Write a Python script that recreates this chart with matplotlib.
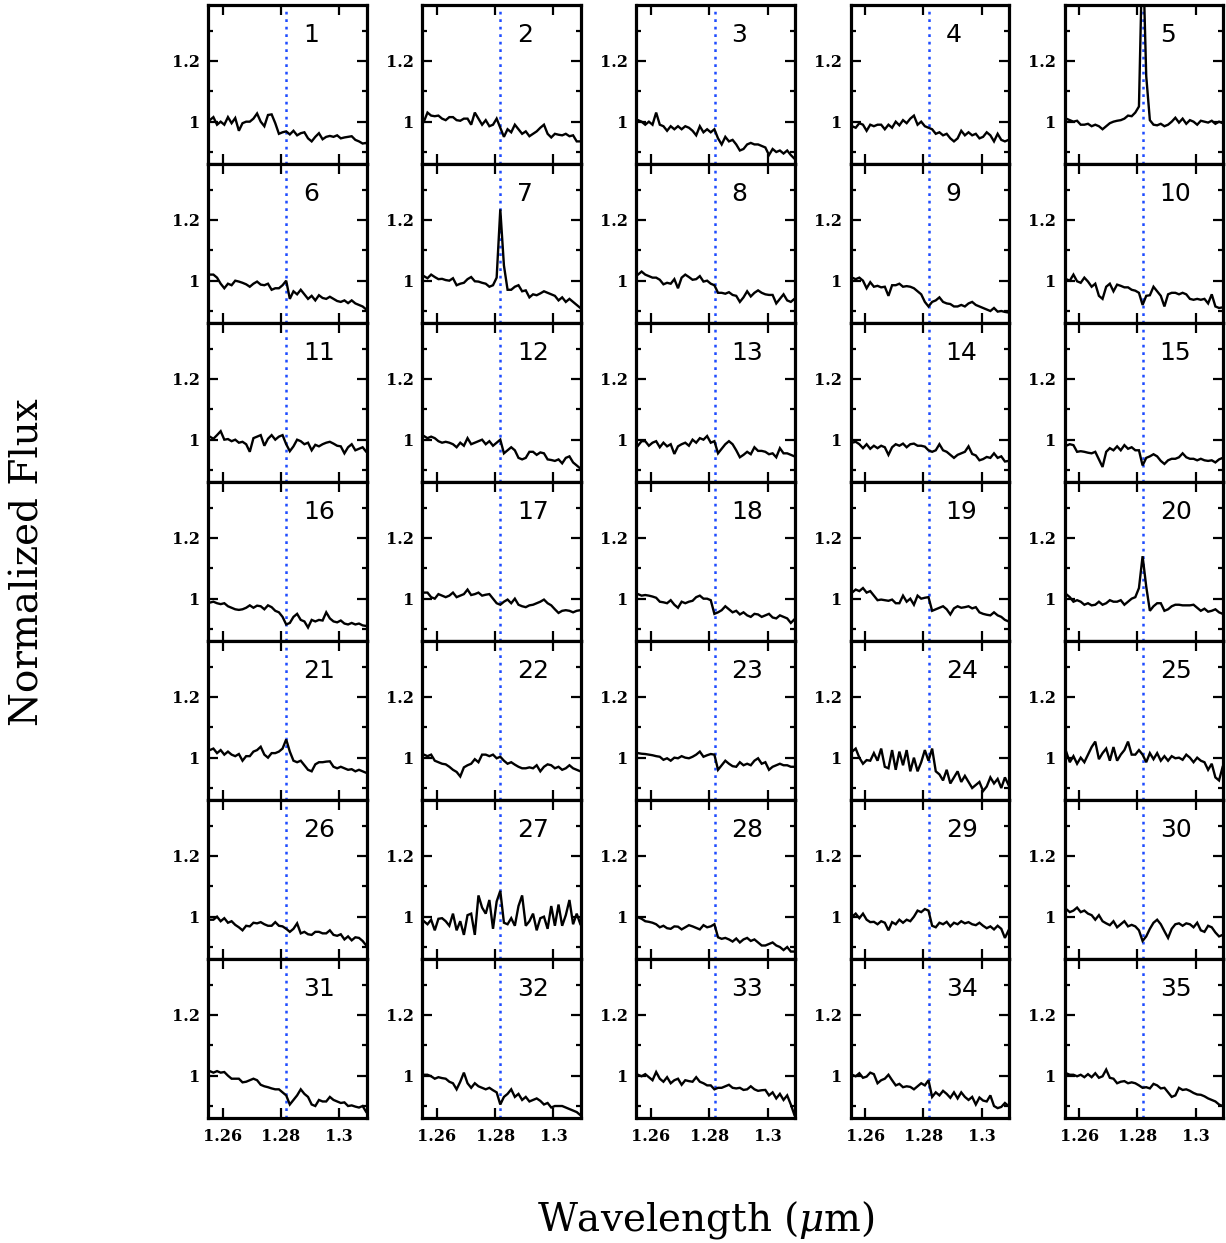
import numpy as np
import matplotlib
matplotlib.use("Agg")
import matplotlib.pyplot as plt
from matplotlib.ticker import FixedLocator, FixedFormatter, NullFormatter

# Wavelength sampling of the extracted spectra (micron)
wave = np.round(1.2555 + 0.00125 * np.arange(45), 5)
PA_BETA = 1.2818

f01 = [1.005, 1.015, 0.990, 1.000, 0.990, 1.015, 0.995, 1.012, 0.970, 0.995,
       1.000, 1.000, 1.010, 1.027, 1.000, 0.985, 1.022, 1.024, 0.995, 0.960,
       0.965, 0.968, 0.958, 0.970, 0.955, 0.962, 0.965, 0.945, 0.935, 0.950,
       0.962, 0.942, 0.950, 0.953, 0.950, 0.955, 0.945, 0.948, 0.950, 0.952,
       0.940, 0.935, 0.928, 0.930, 0.910]
f02 = [1.000, 1.030, 1.020, 1.018, 1.020, 1.010, 1.005, 1.015, 1.015, 1.005,
       1.003, 1.010, 1.010, 0.990, 1.030, 1.010, 0.990, 1.005, 0.985, 0.990,
       1.010, 0.980, 0.950, 0.975, 0.965, 0.990, 0.975, 0.960, 0.968, 0.952,
       0.960, 0.968, 0.980, 0.990, 0.960, 0.948, 0.960, 0.957, 0.955, 0.960,
       0.952, 0.955, 0.935, 0.935, 0.935]
f03 = [1.005, 1.000, 0.990, 1.000, 0.990, 1.030, 0.990, 0.985, 0.970, 0.985,
       0.975, 0.985, 0.975, 0.985, 0.980, 0.970, 0.955, 0.985, 0.965, 0.975,
       0.965, 0.975, 0.945, 0.925, 0.950, 0.935, 0.940, 0.925, 0.905, 0.910,
       0.925, 0.930, 0.925, 0.925, 0.920, 0.915, 0.890, 0.910, 0.900, 0.905,
       0.895, 0.905, 0.890, 0.878, 0.880]
f04 = [0.985, 0.980, 0.995, 0.990, 0.970, 0.990, 0.985, 0.990, 0.990, 0.975,
       0.990, 0.980, 1.000, 0.988, 1.005, 0.995, 1.010, 1.020, 0.990, 1.000,
       0.985, 0.980, 0.975, 0.960, 0.965, 0.955, 0.960, 0.945, 0.935, 0.945,
       0.970, 0.955, 0.965, 0.955, 0.960, 0.945, 0.950, 0.965, 0.955, 0.935,
       0.960, 0.940, 0.935, 0.940, 0.940]
f05 = [1.010, 1.005, 1.000, 1.003, 0.990, 0.990, 0.993, 0.985, 0.990, 0.985,
       0.975, 0.985, 0.995, 1.000, 1.003, 1.005, 1.010, 1.020, 1.018, 1.030,
       1.050, 1.600, 1.150, 1.005, 0.990, 0.988, 0.993, 0.985, 0.990, 1.000,
       1.013, 0.997, 1.010, 0.993, 1.005, 1.000, 0.990, 1.003, 1.000, 0.997,
       1.003, 0.993, 1.000, 0.995, 0.995]
f06 = [1.020, 1.020, 1.010, 0.990, 0.975, 0.990, 0.985, 1.000, 0.997, 0.993,
       0.988, 0.980, 0.990, 0.997, 0.987, 0.985, 0.990, 0.970, 0.975, 0.975,
       0.985, 1.000, 0.940, 0.965, 0.955, 0.970, 0.955, 0.940, 0.950, 0.935,
       0.952, 0.943, 0.940, 0.947, 0.940, 0.933, 0.930, 0.935, 0.926, 0.935,
       0.925, 0.920, 0.915, 0.905, 0.905]
f07 = [1.015, 1.008, 1.020, 1.012, 1.005, 1.006, 1.002, 1.000, 1.008, 0.985,
       0.990, 0.993, 1.005, 1.012, 0.998, 0.997, 0.993, 0.990, 0.980, 0.985,
       1.010, 1.235, 1.050, 0.970, 0.970, 0.980, 0.985, 0.965, 0.968, 0.945,
       0.955, 0.952, 0.958, 0.965, 0.960, 0.955, 0.950, 0.935, 0.945, 0.930,
       0.940, 0.930, 0.920, 0.910, 0.905]
f08 = [1.020, 1.030, 1.020, 1.015, 1.010, 1.010, 1.003, 0.988, 0.993, 0.990,
       1.005, 0.975, 1.010, 1.020, 1.012, 1.003, 1.005, 1.015, 0.997, 1.000,
       0.990, 0.985, 0.960, 0.960, 0.957, 0.962, 0.953, 0.950, 0.930, 0.945,
       0.965, 0.948, 0.960, 0.968, 0.960, 0.955, 0.953, 0.953, 0.925, 0.940,
       0.955, 0.935, 0.930, 0.940, 0.935]
f09 = [1.010, 1.005, 1.010, 1.000, 0.975, 0.995, 0.980, 0.983, 0.978, 0.980,
       0.950, 0.985, 0.985, 0.990, 0.980, 0.982, 0.980, 0.975, 0.965, 0.955,
       0.930, 0.915, 0.930, 0.935, 0.945, 0.930, 0.925, 0.923, 0.915, 0.915,
       0.920, 0.915, 0.925, 0.930, 0.920, 0.915, 0.910, 0.905, 0.900, 0.910,
       0.898, 0.900, 0.897, 0.895, 0.895]
f10 = [1.005, 1.000, 1.020, 0.998, 0.993, 1.010, 0.997, 0.980, 0.990, 0.950,
       0.940, 0.980, 0.990, 0.965, 0.987, 0.983, 0.978, 0.978, 0.970, 0.967,
       0.960, 0.920, 0.950, 0.952, 0.980, 0.965, 0.950, 0.915, 0.955, 0.960,
       0.960, 0.955, 0.960, 0.955, 0.940, 0.937, 0.940, 0.937, 0.940, 0.925,
       0.955, 0.915, 0.910, 0.912, 0.910]
f11 = [1.010, 1.003, 1.015, 1.028, 1.000, 1.002, 0.995, 1.000, 0.990, 0.993,
       0.985, 0.960, 1.005, 1.010, 1.015, 0.980, 1.003, 1.015, 1.000, 1.010,
       1.015, 0.985, 0.962, 0.978, 1.000, 0.995, 0.985, 0.990, 0.965, 0.983,
       0.978, 0.985, 0.990, 0.993, 0.987, 0.980, 0.978, 0.955, 0.975, 0.985,
       0.965, 0.970, 0.975, 0.960, 0.960]
f12 = [1.012, 1.005, 1.010, 1.005, 0.995, 0.990, 0.993, 0.990, 0.985, 0.975,
       0.990, 0.980, 1.005, 0.985, 0.990, 0.995, 1.000, 0.985, 0.995, 0.980,
       0.990, 1.000, 0.955, 0.965, 0.975, 0.965, 0.940, 0.935, 0.940, 0.960,
       0.960, 0.950, 0.958, 0.955, 0.935, 0.933, 0.930, 0.935, 0.922, 0.940,
       0.945, 0.925, 0.915, 0.905, 0.905]
f13 = [0.980, 0.995, 0.995, 0.980, 0.990, 0.995, 0.975, 0.990, 0.978, 0.985,
       0.953, 0.978, 0.985, 0.990, 0.980, 1.000, 0.990, 1.005, 1.000, 1.012,
       0.990, 0.995, 0.955, 0.970, 0.985, 0.995, 0.985, 0.965, 0.942, 0.950,
       0.960, 0.952, 0.975, 0.963, 0.963, 0.960, 0.952, 0.955, 0.942, 0.972,
       0.955, 0.955, 0.950, 0.945, 0.945]
f14 = [0.990, 0.993, 0.985, 0.972, 0.985, 0.970, 0.980, 0.972, 0.980, 0.975,
       0.950, 0.975, 0.985, 0.980, 0.987, 0.975, 0.985, 0.987, 0.980, 0.980,
       0.977, 0.965, 0.960, 0.965, 0.985, 0.965, 0.960, 0.950, 0.940, 0.950,
       0.955, 0.960, 0.978, 0.953, 0.948, 0.932, 0.936, 0.943, 0.940, 0.955,
       0.940, 0.945, 0.928, 0.930, 0.930]
f15 = [0.980, 0.985, 0.982, 0.960, 0.962, 0.960, 0.957, 0.955, 0.960, 0.935,
       0.910, 0.960, 0.972, 0.965, 0.978, 0.965, 0.982, 0.970, 0.975, 0.965,
       0.965, 0.915, 0.940, 0.945, 0.952, 0.945, 0.930, 0.920, 0.932, 0.937,
       0.937, 0.942, 0.955, 0.942, 0.937, 0.937, 0.932, 0.937, 0.932, 0.930,
       0.932, 0.925, 0.935, 0.940, 0.940]
f16 = [0.987, 0.990, 0.985, 0.982, 0.985, 0.975, 0.970, 0.965, 0.963, 0.965,
       0.970, 0.978, 0.970, 0.977, 0.975, 0.965, 0.978, 0.972, 0.960, 0.955,
       0.940, 0.915, 0.920, 0.940, 0.950, 0.930, 0.925, 0.905, 0.930, 0.925,
       0.930, 0.928, 0.955, 0.935, 0.925, 0.922, 0.928, 0.918, 0.915, 0.920,
       0.915, 0.918, 0.912, 0.910, 0.910]
f17 = [1.020, 1.020, 1.005, 1.000, 1.015, 1.010, 1.005, 1.010, 1.020, 1.005,
       1.010, 1.015, 1.030, 1.012, 1.015, 1.020, 1.010, 1.013, 1.015, 1.000,
       0.985, 0.980, 0.990, 0.997, 0.985, 1.000, 0.980, 0.975, 0.972, 0.978,
       0.980, 0.985, 0.990, 0.997, 0.985, 0.978, 0.965, 0.953, 0.960, 0.962,
       0.960, 0.955, 0.960, 0.962, 0.962]
f18 = [1.015, 1.010, 1.012, 1.010, 1.007, 1.003, 0.990, 0.988, 0.985, 0.995,
       0.980, 0.970, 0.990, 0.985, 0.990, 0.993, 1.005, 1.010, 1.000, 1.000,
       0.995, 0.950, 0.955, 0.962, 0.975, 0.965, 0.955, 0.960, 0.948, 0.955,
       0.945, 0.940, 0.950, 0.948, 0.940, 0.945, 0.950, 0.938, 0.935, 0.945,
       0.940, 0.935, 0.920, 0.932, 0.930]
f19 = [1.020, 1.030, 1.025, 1.035, 1.020, 1.025, 1.010, 0.995, 0.997, 0.995,
       0.993, 0.997, 0.985, 0.985, 1.010, 0.990, 1.000, 0.980, 1.010, 1.000,
       1.003, 1.005, 0.960, 0.965, 0.970, 0.975, 0.965, 0.948, 0.968, 0.975,
       0.970, 0.972, 0.975, 0.968, 0.972, 0.955, 0.950, 0.947, 0.945, 0.955,
       0.945, 0.940, 0.930, 0.925, 0.925]
f20 = [1.015, 1.005, 0.990, 0.995, 0.990, 0.980, 0.985, 0.978, 0.980, 0.990,
       0.980, 0.985, 0.995, 0.990, 0.990, 0.995, 0.980, 0.990, 1.000, 1.005,
       1.035, 1.140, 1.040, 0.960, 0.975, 0.985, 0.985, 0.960, 0.965, 0.975,
       0.980, 0.980, 0.978, 0.978, 0.978, 0.980, 0.970, 0.960, 0.967, 0.957,
       0.960, 0.965, 0.955, 0.950, 0.950]
f21 = [1.025, 1.030, 1.015, 1.025, 1.010, 1.020, 1.010, 1.005, 1.012, 0.990,
       1.005, 1.005, 1.020, 1.025, 1.036, 1.010, 1.000, 1.015, 1.015, 1.020,
       1.030, 1.060, 1.020, 0.990, 0.985, 0.990, 0.975, 0.960, 0.955, 0.978,
       0.985, 0.985, 0.987, 0.988, 0.970, 0.965, 0.970, 0.965, 0.960, 0.962,
       0.955, 0.960, 0.955, 0.950, 0.950]
f22 = [1.010, 1.005, 1.010, 0.990, 0.985, 0.980, 0.978, 0.970, 0.960, 0.953,
       0.938, 0.968, 0.975, 0.980, 0.995, 0.985, 1.010, 1.010, 1.005, 1.010,
       0.998, 1.003, 0.990, 0.980, 0.985, 0.977, 0.970, 0.965, 0.965, 0.968,
       0.965, 0.975, 0.955, 0.970, 0.978, 0.975, 0.965, 0.970, 0.960, 0.965,
       0.975, 0.965, 0.960, 0.955, 0.955]
f23 = [1.015, 1.013, 1.012, 1.010, 1.008, 1.005, 1.003, 0.993, 0.998, 0.990,
       1.000, 0.998, 1.005, 1.000, 0.998, 1.003, 1.010, 1.020, 1.003, 1.008,
       1.012, 1.010, 0.960, 0.975, 0.990, 0.980, 0.972, 0.970, 0.985, 0.975,
       0.980, 0.975, 0.990, 0.998, 0.980, 0.985, 0.960, 0.970, 0.975, 0.980,
       0.975, 0.975, 0.970, 0.970, 0.970]
f24 = [1.020, 1.030, 1.000, 0.980, 0.992, 0.990, 1.015, 0.990, 1.030, 0.970,
       0.965, 1.025, 0.960, 1.020, 0.975, 1.025, 0.955, 1.000, 0.955, 0.985,
       1.025, 0.990, 1.030, 0.955, 0.945, 0.925, 0.960, 0.915, 0.935, 0.955,
       0.920, 0.940, 0.920, 0.900, 0.910, 0.920, 0.890, 0.905, 0.935, 0.915,
       0.930, 0.900, 0.935, 0.910, 0.910]
f25 = [1.020, 0.985, 1.005, 0.980, 1.000, 0.985, 1.010, 1.035, 1.053, 0.995,
       1.015, 1.030, 0.990, 1.035, 0.990, 1.010, 1.025, 1.053, 1.010, 1.010,
       1.025, 1.010, 0.985, 1.015, 0.995, 1.015, 0.990, 1.005, 0.990, 1.005,
       0.998, 1.000, 0.993, 1.010, 1.000, 0.985, 1.000, 0.990, 0.985, 0.960,
       0.980, 0.935, 0.925, 0.970, 0.970]
f26 = [0.990, 0.990, 1.000, 0.985, 0.995, 0.980, 0.985, 0.973, 0.965, 0.955,
       0.970, 0.968, 0.980, 0.978, 0.982, 0.975, 0.970, 0.970, 0.982, 0.970,
       0.968, 0.960, 0.950, 0.960, 0.978, 0.945, 0.950, 0.942, 0.940, 0.950,
       0.950, 0.945, 0.945, 0.955, 0.940, 0.937, 0.942, 0.925, 0.935, 0.922,
       0.932, 0.930, 0.920, 0.905, 0.900]
f27 = [0.985, 0.975, 0.990, 0.955, 0.993, 0.995, 0.985, 0.970, 1.010, 0.955,
       0.985, 0.940, 1.005, 1.010, 0.940, 1.070, 1.030, 1.010, 1.055, 0.960,
       1.050, 1.085, 0.980, 0.975, 0.995, 0.970, 1.035, 1.070, 0.970, 0.985,
       1.010, 0.955, 0.995, 1.000, 0.960, 1.035, 0.970, 1.040, 0.970, 1.005,
       1.055, 0.975, 1.010, 0.975, 0.975]
f28 = [0.998, 0.993, 0.985, 0.983, 0.980, 0.975, 0.965, 0.970, 0.962, 0.960,
       0.968, 0.967, 0.958, 0.965, 0.972, 0.968, 0.963, 0.958, 0.972, 0.965,
       0.968, 0.975, 0.932, 0.927, 0.930, 0.925, 0.918, 0.928, 0.915, 0.925,
       0.930, 0.920, 0.925, 0.915, 0.905, 0.905, 0.910, 0.915, 0.905, 0.900,
       0.890, 0.900, 0.885, 0.885, 0.885]
f29 = [1.000, 1.010, 0.995, 1.010, 0.990, 0.982, 0.983, 0.975, 0.985, 0.980,
       0.955, 0.982, 0.975, 0.990, 0.980, 0.990, 0.985, 1.000, 1.020, 1.015,
       1.025, 1.020, 0.970, 0.965, 0.980, 0.975, 0.983, 0.968, 0.980, 0.975,
       0.985, 0.978, 0.982, 0.975, 0.972, 0.980, 0.970, 0.962, 0.968, 0.958,
       0.970, 0.960, 0.930, 0.955, 0.955]
f30 = [1.025, 1.015, 1.020, 1.030, 1.015, 1.020, 1.010, 1.005, 0.990, 1.005,
       0.985, 0.978, 0.972, 0.985, 0.965, 0.975, 0.985, 0.968, 0.973, 0.968,
       0.955, 0.920, 0.935, 0.960, 0.980, 0.990, 0.975, 0.952, 0.930, 0.960,
       0.975, 0.978, 0.970, 0.978, 0.975, 0.965, 0.980, 0.955, 0.950, 0.970,
       0.965, 0.948, 0.935, 0.940, 0.940]
f31 = [1.015, 1.010, 1.015, 1.010, 1.012, 1.000, 0.990, 0.990, 0.990, 0.978,
       0.980, 0.985, 0.990, 0.985, 0.970, 0.965, 0.962, 0.958, 0.955, 0.955,
       0.945, 0.935, 0.905, 0.920, 0.935, 0.955, 0.940, 0.930, 0.905, 0.900,
       0.920, 0.915, 0.915, 0.930, 0.920, 0.915, 0.910, 0.912, 0.900, 0.902,
       0.898, 0.895, 0.900, 0.880, 0.880]
f32 = [1.003, 1.003, 0.998, 0.990, 0.995, 0.992, 0.990, 0.980, 0.975, 0.955,
       0.980, 1.010, 0.975, 0.960, 0.975, 0.965, 0.960, 0.955, 0.960, 0.952,
       0.945, 0.905, 0.930, 0.940, 0.955, 0.930, 0.940, 0.920, 0.930, 0.915,
       0.920, 0.925, 0.917, 0.905, 0.910, 0.895, 0.900, 0.900, 0.900, 0.895,
       0.890, 0.885, 0.880, 0.870, 0.870]
f33 = [1.003, 0.998, 1.005, 0.995, 0.985, 1.012, 0.990, 0.980, 0.995, 0.975,
       0.985, 0.990, 0.970, 0.985, 0.982, 0.980, 0.995, 0.980, 0.975, 0.968,
       0.968, 0.955, 0.960, 0.960, 0.965, 0.970, 0.960, 0.958, 0.960, 0.953,
       0.955, 0.965, 0.955, 0.950, 0.952, 0.953, 0.935, 0.945, 0.925, 0.940,
       0.920, 0.935, 0.905, 0.870, 0.870]
f34 = [1.003, 0.998, 1.008, 0.993, 0.997, 1.010, 1.005, 0.975, 0.985, 0.990,
       1.003, 0.985, 0.968, 0.973, 0.962, 0.965, 0.963, 0.955, 0.965, 0.975,
       0.968, 0.985, 0.930, 0.945, 0.935, 0.950, 0.940, 0.927, 0.945, 0.925,
       0.945, 0.930, 0.920, 0.930, 0.905, 0.928, 0.918, 0.915, 0.935, 0.900,
       0.893, 0.897, 0.910, 0.900, 0.900]
f35 = [1.008, 1.003, 1.003, 0.998, 1.003, 0.995, 1.005, 0.995, 1.008, 0.993,
       0.998, 1.020, 0.993, 0.990, 0.975, 0.980, 0.982, 0.975, 0.978, 0.975,
       0.968, 0.960, 0.962, 0.958, 0.973, 0.968, 0.958, 0.960, 0.945, 0.930,
       0.935, 0.960, 0.953, 0.955, 0.950, 0.943, 0.938, 0.937, 0.932, 0.925,
       0.920, 0.915, 0.905, 0.900, 0.900]

spectra = [f01, f02, f03, f04, f05, f06, f07, f08, f09, f10,
           f11, f12, f13, f14, f15, f16, f17, f18, f19, f20,
           f21, f22, f23, f24, f25, f26, f27, f28, f29, f30,
           f31, f32, f33, f34, f35]
panel_ids = [str(n) for n in range(1, len(spectra) + 1)]

x_ticks = [1.26, 1.28, 1.30]
x_ticklabels = ["1.26", "1.28", "1.3"]
y_major = [1.0, 1.2]
y_major_labels = ["1", "1.2"]
y_minor = [0.9, 1.1, 1.3]

# Figure geometry (pixels at 100 dpi)
FIG_W, FIG_H = 1226, 1243
N_COLS, N_ROWS = 5, 7
PANEL_X0, PANEL_DX, PANEL_W = 208.3, 214.1, 158.4
PANEL_Y0, PANEL_H = 5.0, 159.0

tick_font = dict(family="DejaVu Serif", weight="bold", size=11.5)

fig = plt.figure(figsize=(FIG_W / 100, FIG_H / 100), dpi=100)

for i, flux in enumerate(spectra):
    row, col = divmod(i, N_COLS)
    left = PANEL_X0 + col * PANEL_DX
    top = PANEL_Y0 + row * PANEL_H
    ax = fig.add_axes([left / FIG_W, 1 - (top + PANEL_H) / FIG_H,
                       PANEL_W / FIG_W, PANEL_H / FIG_H])

    ax.axvline(PA_BETA, color="#1f4cff", lw=1.8, linestyle=(0, (1.1, 1.9)),
               zorder=1)
    ax.plot(wave, flux, color="black", lw=1.7, zorder=2,
            solid_joinstyle="miter")

    ax.set_xlim(1.255, 1.3094)
    ax.set_ylim(0.8605, 1.3845)

    ax.xaxis.set_major_locator(FixedLocator(x_ticks))
    ax.xaxis.set_major_formatter(FixedFormatter(x_ticklabels))
    ax.yaxis.set_major_locator(FixedLocator(y_major))
    ax.yaxis.set_major_formatter(FixedFormatter(y_major_labels))
    ax.yaxis.set_minor_locator(FixedLocator(y_minor))
    ax.yaxis.set_minor_formatter(NullFormatter())

    ax.tick_params(which="both", direction="in", top=True, right=True,
                   width=1.6, color="black")
    ax.tick_params(which="major", length=7)
    ax.tick_params(which="minor", length=3.5)
    ax.tick_params(axis="y", which="major", pad=6)
    ax.tick_params(axis="x", which="major", pad=7,
                   labelbottom=(row == N_ROWS - 1))
    for lab in ax.get_xticklabels() + ax.get_yticklabels():
        lab.set_fontfamily(tick_font["family"])
        lab.set_fontweight(tick_font["weight"])
        lab.set_fontsize(tick_font["size"])

    for sp in ax.spines.values():
        sp.set_linewidth(2.3)

    ax.text(0.60, 0.81, panel_ids[i], transform=ax.transAxes,
            ha="left", va="center", fontsize=18, family="DejaVu Sans")

plt.rcParams["mathtext.fontset"] = "dejavuserif"
fig.text(28 / FIG_W, 1 - 562 / FIG_H, "Normalized Flux", rotation=90,
         ha="center", va="center", fontsize=28, family="DejaVu Serif")
fig.text(706 / FIG_W, 1 - 1220 / FIG_H, r"Wavelength ($\mu$m)",
         ha="center", va="center", fontsize=28, family="DejaVu Serif")

fig.savefig("out.png", dpi=100)
